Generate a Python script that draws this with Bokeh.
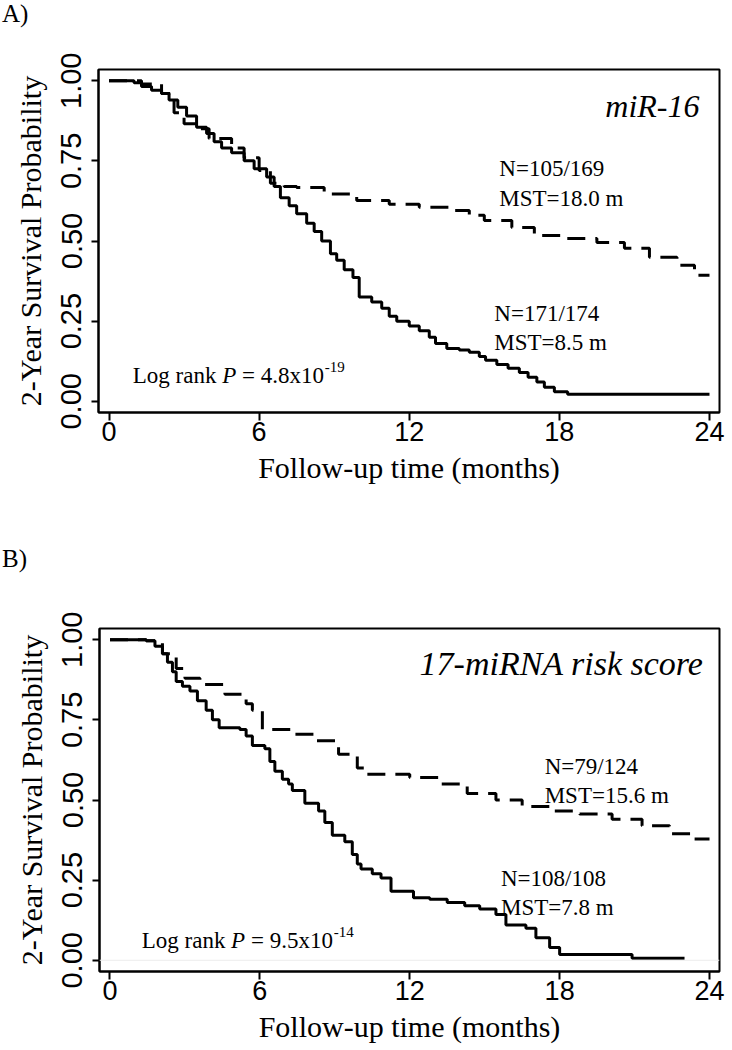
from bokeh.plotting import figure
from bokeh.models import Range1d, FixedTicker, Div, Span
from bokeh.layouts import column
from bokeh.embed import file_html
from bokeh.resources import INLINE
from bokeh.core.properties import value

# ---------------- data ----------------
x_ticks = [0, 6, 12, 18, 24]
x_tick_labels = ["0", "6", "12", "18", "24"]
y_ticks = [0, 0.25, 0.5, 0.75, 1.0]
y_tick_labels = ["0.00", "0.25", "0.50", "0.75", "1.00"]

x_label = "Follow-up time (months)"
y_label = "2-Year Survival Probability"

a_solid_t = [0, 1.0, 1.3, 1.7, 2.1, 2.4, 2.75, 3.1, 3.5, 3.9, 4.2, 4.5, 4.9, 5.4, 5.8,
             6.3, 6.6, 6.85, 7.2, 7.5, 7.9, 8.2, 8.5, 8.85, 9.1, 9.4, 9.75, 10.0, 10.5,
             10.9, 11.2, 11.5, 12.0, 12.4, 12.8, 13.05, 13.5, 14.0, 14.4, 14.8, 15.05,
             15.5, 15.95, 16.4, 16.75, 17.1, 17.4, 17.8, 18.33, 24.0]
a_solid_s = [1.0, 0.994, 0.982, 0.97, 0.96, 0.94, 0.917, 0.89, 0.855, 0.835, 0.81, 0.79,
             0.775, 0.75, 0.725, 0.70, 0.67, 0.635, 0.61, 0.585, 0.555, 0.53, 0.50, 0.46,
             0.44, 0.41, 0.386, 0.325, 0.31, 0.29, 0.265, 0.25, 0.235, 0.22, 0.2, 0.18,
             0.165, 0.16, 0.153, 0.14, 0.128, 0.115, 0.103, 0.09, 0.075, 0.06, 0.044,
             0.03, 0.022, 0.022]
a_dash_t = [0, 1.3, 2.1, 2.6, 3.0, 3.5, 4.0, 4.9, 5.4, 6.0, 6.45, 7.0, 7.5, 8.6, 9.9,
            11.2, 12.4, 13.7, 14.4, 15.0, 16.1, 17.0, 18.3, 19.5, 20.6, 21.6, 22.7,
            23.4, 24.0]
a_dash_s = [1.0, 0.99, 0.96, 0.90, 0.866, 0.85, 0.82, 0.79, 0.76, 0.72, 0.68, 0.67,
            0.667, 0.647, 0.626, 0.615, 0.605, 0.595, 0.58, 0.564, 0.542, 0.517, 0.508,
            0.495, 0.477, 0.449, 0.424, 0.393, 0.393]

b_solid_t = [0, 1.45, 1.8, 2.1, 2.3, 2.5, 2.65, 2.9, 3.2, 3.5, 3.85, 4.1, 4.37, 5.2,
             5.45, 5.7, 6.2, 6.4, 6.6, 6.9, 7.15, 7.3, 7.8, 8.35, 8.6, 8.9, 9.4, 9.7,
             9.9, 10.05, 10.5, 10.85, 11.25, 12.15, 12.8, 13.5, 14.2, 14.8, 15.45, 15.85,
             16.65, 17.05, 17.6, 18.0, 20.9, 23.0]
b_solid_s = [1.0, 0.997, 0.98, 0.956, 0.93, 0.90, 0.87, 0.855, 0.84, 0.81, 0.78, 0.75,
             0.725, 0.72, 0.70, 0.67, 0.66, 0.62, 0.59, 0.565, 0.55, 0.53, 0.49, 0.466,
             0.43, 0.39, 0.37, 0.33, 0.30, 0.285, 0.27, 0.257, 0.215, 0.195, 0.19, 0.18,
             0.17, 0.16, 0.143, 0.11, 0.10, 0.07, 0.04, 0.018, 0.006, 0.006]
b_dash_t = [0, 1.45, 2.1, 2.65, 3.0, 3.6, 4.6, 5.45, 5.7, 6.1, 7.3, 8.2, 9.15, 9.9,
            10.3, 12.0, 13.2, 14.3, 15.45, 16.5, 17.6, 18.8, 20.1, 21.3, 22.4, 23.4, 24.0]
b_dash_s = [1.0, 0.997, 0.956, 0.91, 0.88, 0.86, 0.83, 0.80, 0.78, 0.72, 0.705, 0.685,
            0.643, 0.60, 0.58, 0.57, 0.55, 0.52, 0.50, 0.48, 0.466, 0.456, 0.44, 0.42,
            0.395, 0.378, 0.378]

panel_a = dict(
    title="miR-16", title_pos=(23.6, 0.922), title_size="32px",
    dash_text=["N=105/169", "MST=18.0 m"], dash_pos=(15.6, 0.726, 0.632),
    solid_text=["N=171/174", "MST=8.5 m"], solid_pos=(15.4, 0.274, 0.184),
    pval="4.8", pexp="-19", p_pos=(0.95, 0.081),
)
panel_b = dict(
    title="17-miRNA risk score", title_pos=(23.76, 0.925), title_size="34px",
    dash_text=["N=79/124", "MST=15.6 m"], dash_pos=(17.4, 0.606, 0.5125),
    solid_text=["N=108/108", "MST=7.8 m"], solid_pos=(15.65, 0.256, 0.166),
    pval="9.5", pexp="-14", p_pos=(1.27, 0.0625),
)

SERIF = "Liberation Serif"
SANS = "Liberation Sans"


def make_panel(height, m_left, b_left, b_right, b_top, b_bottom, st, ss, dt, ds, info,
               zero_line=False):
    p = figure(width=732 + 2 * m_left, height=height, output_backend="svg",
               toolbar_location=None,
               x_range=Range1d(-0.42, 24.4), y_range=Range1d(-0.035, 1.035),
               min_border_left=b_left, min_border_right=b_right,
               min_border_top=b_top, min_border_bottom=b_bottom,
               margin=(0, 0, 0, -m_left))
    p.xgrid.visible = False
    p.ygrid.visible = False
    p.outline_line_color = "black"
    p.outline_line_width = 2
    p.outline_line_alpha = 1.0
    p.background_fill_color = "white"
    p.border_fill_color = "white"

    p.xaxis.ticker = FixedTicker(ticks=x_ticks)
    p.xaxis.major_label_overrides = {t: l for t, l in zip(x_ticks, x_tick_labels)}
    p.yaxis.ticker = FixedTicker(ticks=y_ticks)
    p.yaxis.major_label_overrides = {t: l for t, l in zip(y_ticks, y_tick_labels)}
    p.yaxis.major_label_orientation = "vertical"
    p.xaxis.axis_label = x_label
    p.yaxis.axis_label = y_label
    for ax in (p.xaxis, p.yaxis):
        ax.axis_line_width = 2
        ax.axis_line_color = "black"
        ax.major_tick_line_width = 2
        ax.major_tick_line_color = "black"
        ax.major_tick_in = 0
        ax.minor_tick_in = 0
        ax.minor_tick_out = 0
        ax.major_label_text_font = SANS
        ax.major_label_text_color = "black"
        ax.axis_label_text_font = SERIF
        ax.axis_label_text_font_size = "30px"
        ax.axis_label_text_font_style = "normal"
        ax.axis_label_text_color = "black"
    p.xaxis.major_tick_out = 8
    p.xaxis.major_label_text_font_size = "27px"
    p.xaxis.major_label_standoff = 1
    p.xaxis.axis_label_standoff = 7
    p.yaxis.major_tick_out = 7
    p.yaxis.major_label_text_font_size = "29px"
    p.yaxis.major_label_standoff = 10
    p.yaxis.axis_label_standoff = 12

    if zero_line:
        p.add_layout(Span(location=0, dimension="width", line_color="#ececec", line_width=1))

    p.step(x=dt, y=ds, mode="after", line_color="black", line_width=3, line_dash="18 10")
    p.step(x=st, y=ss, mode="after", line_color="black", line_width=3)

    base = dict(text_font=value(SERIF), text_baseline="alphabetic", text_color="black")
    p.text(x=[info["title_pos"][0]], y=[info["title_pos"][1]], text=[info["title"]],
           text_align="right", text_font_size=info["title_size"], text_font_style="italic",
           **base)
    tx, y1, y2 = info["dash_pos"]
    p.text(x=[tx, tx], y=[y1, y2], text=info["dash_text"], text_font_size="23px", **base)
    tx, y1, y2 = info["solid_pos"]
    p.text(x=[tx, tx], y=[y1, y2], text=info["solid_text"], text_font_size="23px", **base)
    px, py = info["p_pos"]
    p.text(x=[px], y=[py], text=["Log rank"], text_font_size="23px", **base)
    p.text(x=[px], y=[py], text=["P"], x_offset=89.4, text_font_size="23px",
           text_font_style="italic", **base)
    p.text(x=[px], y=[py], text=["= " + info["pval"] + "x10"], x_offset=109.3,
           text_font_size="23px", **base)
    p.text(x=[px], y=[py], text=[info["pexp"]], x_offset=192.0, y_offset=-8,
           text_font_size="15px", **base)
    return p


div_style = {"font-family": SERIF, "font-size": "25px", "line-height": "1.1",
             "color": "black", "padding-left": "2px"}
div_a = Div(text="A)", width=732, height=48, margin=0, styles=div_style)
fig_a = make_panel(497, 1, 60, 13, 21, 133, a_solid_t, a_solid_s, a_dash_t, a_dash_s,
                   panel_a)
div_b = Div(text="B)", width=732, height=40, margin=0, styles=div_style)
fig_b = make_panel(465, 0, 99, 8, 43, 79, b_solid_t, b_solid_s, b_dash_t, b_dash_s,
                   panel_b, zero_line=True)

layout = column(div_a, fig_a, div_b, fig_b, spacing=0)

with open("out.html", "w") as f:
    f.write(file_html(layout, INLINE))
